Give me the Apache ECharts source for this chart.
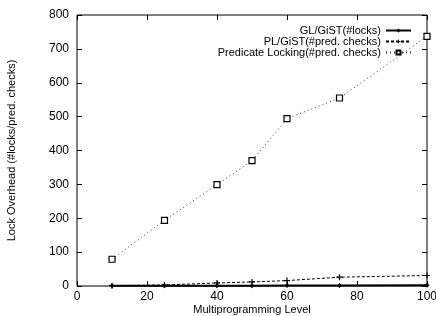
<!DOCTYPE html>
<html lang="en">
<head>
    <meta charset="UTF-8">
    <title>Lock Overhead</title>
    <script src="https://cdn.jsdelivr.net/npm/echarts@6/dist/echarts.min.js"></script>
    <style>
        html, body { margin: 0; padding: 0; background: #fff; }
        #chart { width: 436px; height: 316px; }
    </style>
</head>
<body>
    <div id="chart"></div>
    <script>
        // data
        var mpl = [10, 25, 40, 50, 60, 75, 100];
        var glLocks = [0.5, 1, 1, 1, 1.5, 1.5, 2];
        var plChecks = [1, 3, 9, 12, 16, 26, 31];
        var predLocking = [79, 194, 299, 370, 494, 555, 737];
        var names = ['GL/GiST(#locks)', 'PL/GiST(#pred. checks)', 'Predicate Locking(#pred. checks)'];

        function pairs(ys) {
            return mpl.map(function (x, i) { return [x, ys[i]]; });
        }

        var font = 'Liberation Sans, Arial, sans-serif';
        var black = '#000';
        var plus = 'path://M4,0H6V4H10V6H6V10H4V6H0V4H4Z';

        // gnuplot style box: frame comes from the grid border, ticks point inward on all sides
        var noLine = { show: false, onZero: false };
        var frameTick = { show: true, inside: true, length: 5, lineStyle: { color: black } };

        var myChart = echarts.init(document.getElementById('chart'));

        var option = {
            animation: false,
            textStyle: { fontFamily: font, color: black },
            grid: {
                left: 77, right: 9, top: 15, bottom: 30,
                outerBoundsMode: 'none',
                show: true, borderColor: black, borderWidth: 1, backgroundColor: 'transparent'
            },
            legend: {
                orient: 'vertical',
                right: 19,
                top: 20,
                align: 'right',
                itemGap: 0,
                itemWidth: 25,
                itemHeight: 5,
                textStyle: { fontFamily: font, fontSize: 11, lineHeight: 11, color: black },
                data: names
            },
            xAxis: [{
                type: 'value',
                min: 0, max: 100, interval: 20,
                name: 'Multiprogramming Level',
                nameLocation: 'middle',
                nameGap: 18,
                nameMoveOverlap: false,
                nameTextStyle: { fontSize: 11, color: black },
                axisLine: noLine,
                axisTick: frameTick,
                axisLabel: { fontSize: 12, color: black, margin: 5 },
                splitLine: { show: false }
            }, {
                type: 'value', position: 'top',
                min: 0, max: 100, interval: 20,
                axisLine: noLine,
                axisTick: frameTick,
                axisLabel: { show: false },
                splitLine: { show: false }
            }],
            yAxis: [{
                type: 'value',
                min: 0, max: 800, interval: 100,
                name: 'Lock Overhead (#locks/pred. checks)',
                nameLocation: 'middle',
                nameGap: 60,
                nameMoveOverlap: false,
                nameTextStyle: { fontSize: 11, color: black },
                axisLine: noLine,
                axisTick: frameTick,
                axisLabel: { fontSize: 12, color: black, margin: 8 },
                splitLine: { show: false }
            }, {
                type: 'value', position: 'right',
                min: 0, max: 800, interval: 100,
                axisLine: noLine,
                axisTick: frameTick,
                axisLabel: { show: false },
                splitLine: { show: false }
            }],
            series: [{
                name: names[0],
                type: 'line',
                data: pairs(glLocks),
                symbol: 'diamond',
                symbolSize: 5,
                itemStyle: { color: black },
                lineStyle: { color: black, width: 2 },
                z: 4
            }, {
                name: names[1],
                type: 'line',
                data: pairs(plChecks),
                symbol: plus,
                symbolSize: 6,
                itemStyle: { color: black },
                lineStyle: { color: black, width: 1, type: [3, 2] },
                z: 3
            }, {
                name: names[2],
                type: 'line',
                data: pairs(predLocking),
                symbol: 'rect',
                symbolSize: 6,
                itemStyle: { color: '#fff', borderColor: black, borderWidth: 1.2 },
                lineStyle: { color: '#333', width: 1, type: [1, 3] },
                z: 2
            }]
        };

        myChart.setOption(option);
    </script>
</body>
</html>
